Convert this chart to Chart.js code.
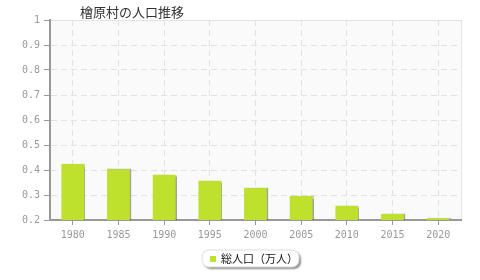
<!DOCTYPE html>
<html>
<head>
<meta charset="utf-8">
<script src="https://cdn.jsdelivr.net/npm/chart.js@4"></script>
<style>
  html, body { margin: 0; padding: 0; background: #fff; }
  #wrap { width: 480px; height: 280px; }
</style>
</head>
<body>
<div id="wrap"><canvas id="popChart" width="480" height="280"></canvas></div>
<script>
const years = ['1980', '1985', '1990', '1995', '2000', '2005', '2010', '2015', '2020'];
const population = [0.424, 0.403, 0.381, 0.357, 0.328, 0.296, 0.257, 0.224, 0.207];
const chartTitle = '檜原村の人口推移';
const seriesName = '総人口（万人）';
const barColor = '#bde12d';

// plot background, title and the little legend box
const decor = {
  id: 'decor',
  beforeDraw(chart) {
    const { ctx, chartArea: a } = chart;
    ctx.save();
    ctx.fillStyle = '#fafafa';
    ctx.fillRect(a.left, a.top, a.right - a.left, a.bottom - a.top);
    ctx.strokeStyle = '#e4e4e4';
    ctx.lineWidth = 1;
    ctx.strokeRect(a.left + 0.5, a.top + 0.5, a.right - a.left, a.bottom - a.top);
    ctx.restore();
  },
  beforeDatasetsDraw(chart) {
    const ctx = chart.ctx;
    ctx.save();
    ctx.shadowColor = 'rgba(0,0,0,0.35)';
    ctx.shadowOffsetX = 1;
    ctx.shadowOffsetY = 0;
    ctx.shadowBlur = 1;
  },
  afterDatasetsDraw(chart) {
    chart.ctx.restore();
  },
  afterDraw(chart) {
    const ctx = chart.ctx;
    ctx.save();
    ctx.fillStyle = '#333';
    ctx.font = '13px "Noto Sans CJK JP"';
    ctx.textBaseline = 'middle';
    ctx.textAlign = 'left';
    ctx.fillText(chartTitle, 80, 12);

    // legend box
    const x = 202, y = 250, w = 97, h = 17, r = 7;
    ctx.shadowColor = 'rgba(0,0,0,0.45)';
    ctx.shadowOffsetX = 2;
    ctx.shadowOffsetY = 2;
    ctx.shadowBlur = 2;
    ctx.fillStyle = '#fff';
    ctx.beginPath();
    ctx.roundRect(x, y, w, h, r);
    ctx.fill();
    ctx.shadowColor = 'transparent';
    ctx.strokeStyle = '#ddd';
    ctx.lineWidth = 1;
    ctx.stroke();
    ctx.fillStyle = barColor;
    ctx.fillRect(x + 8, y + 6, 6, 6);
    ctx.fillStyle = '#111';
    ctx.font = '11px "Noto Sans CJK JP"';
    ctx.fillText(seriesName, x + 19, y + 9);
    ctx.restore();
  }
};

const ctx = document.getElementById('popChart').getContext('2d');
const popChart = new Chart(ctx, {
  type: 'bar',
  data: {
    labels: years,
    datasets: [{
      label: seriesName,
      data: population,
      backgroundColor: barColor,
      barPercentage: 0.5,
      categoryPercentage: 1.0
    }]
  },
  options: {
    responsive: false,
    animation: false,
    layout: { padding: { left: 0, top: 20, right: 19, bottom: 0 } },
    plugins: {
      legend: { display: false },
      title: { display: false },
      tooltip: { enabled: false }
    },
    scales: {
      x: {
        afterFit(scale) { scale.height = 60; },
        grid: {
          offset: false,
          color: '#e2e2e2',
          tickColor: '#999',
          tickLength: 5,
          drawTicks: true
        },
        border: { color: '#999', width: 2, dash: [6, 4] },
        ticks: {
          color: '#999',
          font: { family: 'DejaVu Sans Mono', size: 10 },
          padding: 4,
          maxRotation: 0
        }
      },
      y: {
        min: 0.2,
        max: 1,
        afterFit(scale) { scale.width = 50; },
        grid: {
          color: '#e2e2e2',
          tickColor: '#999',
          tickLength: 6
        },
        border: { color: '#999', width: 2, dash: [6, 4] },
        ticks: {
          stepSize: 0.1,
          color: '#999',
          padding: 4,
          font: { family: 'DejaVu Sans Mono', size: 10 },
          callback: v => (Math.abs(v - 1) < 1e-9 ? '1' : v.toFixed(1))
        }
      }
    }
  },
  plugins: [decor]
});
</script>
</body>
</html>
